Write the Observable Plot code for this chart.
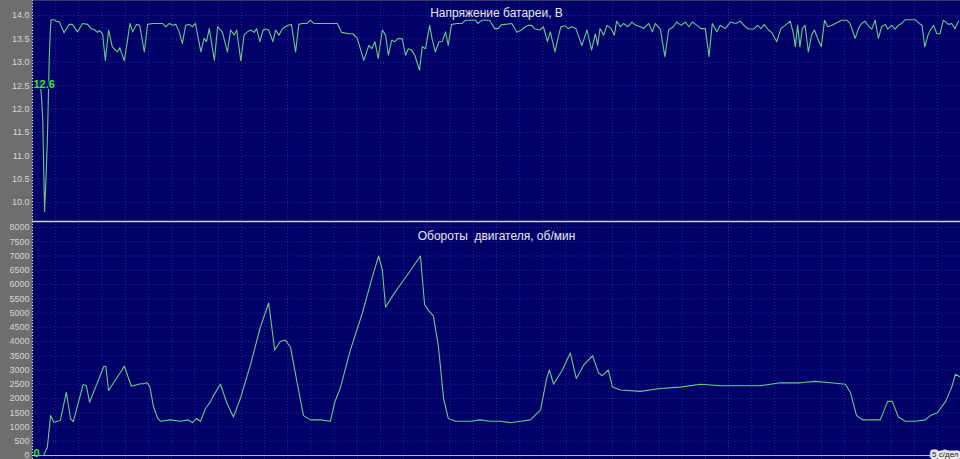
<!DOCTYPE html>
<html><head><meta charset="utf-8">
<script src="https://cdn.jsdelivr.net/npm/d3@7"></script>
<script src="https://cdn.jsdelivr.net/npm/@observablehq/plot@0.6"></script>
<style>
html,body{margin:0;padding:0;background:#6e6e6e;overflow:hidden;}
#root{width:960px;height:459px;position:relative;}
#root svg{display:block;}
</style></head>
<body><div id="root"></div>
<script>
// Titles
const titleTop = "Напряжение батареи, В";
const titleBottom = "Обороты  двигателя, об/мин";
const scaleNote = "5 с/дел";

// Battery voltage, [time s, volts]
const voltage = [
[1.6,12.6],[1.9,12.3],[2.2,11.8],[2.6,9.81],[2.9,10.5],[3.2,11.3],[3.6,13.04],[3.8,13.6],[4.0,13.91],[4.7,13.91],
[5.0,13.88],[5.8,13.86],[6.8,13.63],[7.9,13.81],[8.6,13.81],[9.7,13.65],[10.8,13.83],[11.9,13.81],[12.6,13.72],[13.3,13.70],
[14.0,13.64],[14.4,13.68],[15.1,13.61],[15.7,13.04],[16.4,13.69],[17.2,13.33],[18.3,13.22],[18.8,13.31],[19.8,13.03],[21.0,13.83],
[21.6,13.65],[22.4,13.81],[23.1,13.79],[24.1,13.22],[24.8,13.81],[25.9,13.83],[26.7,13.83],[28.0,13.83],[28.7,13.76],[29.5,13.83],
[30.2,13.79],[30.9,13.81],[31.6,13.65],[32.3,13.40],[33.0,13.79],[33.8,13.81],[34.5,13.76],[35.1,13.83],[36.3,13.22],[37.0,13.51],
[37.5,13.44],[38.1,13.72],[39.2,13.04],[39.9,13.76],[40.9,13.65],[42.0,13.22],[42.7,13.69],[43.5,13.58],[44.0,13.69],[44.9,13.03],
[45.6,13.58],[46.3,13.65],[47.0,13.69],[47.8,13.64],[48.3,13.72],[49.0,13.44],[49.7,13.69],[50.2,13.71],[50.9,13.69],[51.8,13.44],
[52.4,13.69],[53.1,13.58],[53.9,13.72],[55.1,13.79],[55.8,13.81],[56.7,13.22],[57.4,13.81],[58.1,13.83],[59.2,13.83],[59.9,13.90],
[60.6,13.83],[65.7,13.83],[66.6,13.64],[68.2,13.61],[69.0,13.61],[70.0,13.51],[71.4,13.04],[72.5,13.36],[73.1,13.29],[73.8,13.44],
[74.5,13.08],[75.4,13.69],[76.1,13.58],[76.7,13.15],[77.4,13.47],[78.1,13.44],[78.8,13.51],[79.7,13.50],[80.4,13.15],[81.0,13.29],
[81.7,13.26],[82.4,13.15],[83.4,12.83],[84.0,13.33],[84.7,13.29],[85.6,13.79],[86.1,13.51],[86.8,13.22],[87.6,13.44],[88.3,13.44],
[89.0,13.65],[89.6,13.36],[90.3,13.81],[91.5,13.83],[92.6,13.83],[93.3,13.90],[95.5,13.90],[96.0,13.83],[96.9,13.90],[98.5,13.90],
[99.6,13.72],[100.4,13.72],[101.0,13.80],[103.3,13.83],[104.4,13.64],[105.4,13.69],[106.2,13.76],[106.9,13.79],[107.6,13.79],[108.3,13.71],
[109.4,13.69],[110.1,13.76],[111.0,13.44],[111.6,13.65],[112.6,13.22],[113.4,13.58],[113.9,13.76],[114.8,13.78],[115.5,13.72],[116.2,13.76],
[117.1,13.72],[118.4,13.36],[119.5,13.69],[120.5,13.26],[121.3,13.61],[121.8,13.36],[122.3,13.72],[123.1,13.58],[123.8,13.79],[124.7,13.72],
[125.4,13.58],[125.9,13.88],[126.7,13.76],[127.4,13.83],[128.3,13.76],[129.2,13.86],[130.0,13.79],[131.0,13.76],[131.7,13.72],[132.8,13.83],
[133.6,13.65],[134.2,13.83],[135.3,13.71],[136.3,13.12],[137.1,13.69],[138.1,13.76],[138.8,13.86],[139.8,13.79],[140.7,13.86],[141.5,13.76],
[142.2,13.86],[143.2,13.79],[144.1,13.72],[145.0,13.72],[145.8,13.12],[146.5,13.83],[147.5,13.65],[148.2,13.79],[149.3,13.72],[150.4,13.86],
[151.6,13.83],[152.5,13.88],[153.6,13.76],[154.3,13.71],[155.4,13.71],[156.3,13.79],[157.0,13.72],[157.7,13.81],[158.6,13.69],[159.3,13.64],
[160.4,13.44],[161.3,13.72],[162.2,13.79],[163.3,13.88],[164.0,13.61],[164.4,13.33],[164.9,13.79],[165.4,13.33],[165.9,13.72],[166.5,13.79],
[167.2,13.22],[167.9,13.58],[168.5,13.69],[169.2,13.51],[170.0,13.33],[170.7,13.90],[171.4,13.76],[172.3,13.79],[173.0,13.83],[174.4,13.90],
[175.5,13.90],[176.2,13.83],[177.3,13.51],[178.0,13.72],[178.7,13.83],[179.4,13.88],[180.3,13.76],[180.9,13.71],[181.6,13.90],[182.3,13.51],
[183.0,13.76],[183.8,13.81],[184.3,13.71],[185.2,13.79],[185.9,13.71],[186.6,13.79],[187.3,13.83],[188.1,13.91],[190.2,13.91],[191.1,13.83],
[191.7,13.79],[192.3,13.33],[193.0,13.58],[193.5,13.69],[194.2,13.79],[194.9,13.61],[195.6,13.61],[196.3,13.90],[197.4,13.81],[198.1,13.83],
[198.8,13.72],[199.6,13.88]
].map(([t, v]) => ({t, v}));

// Engine speed, [time s, rpm]
const engineRpm = [
[1.3,0],[2.4,0],[3.2,290],[3.9,1400],[4.6,1170],[6.0,1230],[7.3,2220],[8.2,1290],[8.8,1190],[10.9,2490],
[11.6,2450],[12.3,1870],[15.4,3130],[15.8,3130],[16.4,2280],[19.8,3130],[21.3,2430],[23.3,2520],[24.0,2520],[24.7,2560],
[25.3,2400],[26.1,1700],[27.0,1300],[27.6,1200],[29.7,1250],[31.9,1200],[33.6,1250],[34.5,1150],[35.3,1300],[36.2,1200],
[37.3,1650],[38.4,1900],[39.0,2100],[40.5,2500],[42.0,1800],[43.3,1350],[44.8,2000],[47.0,3200],[49.1,4500],[50.9,5350],
[52.2,3700],[53.4,4000],[54.5,4050],[55.6,3800],[57.1,2500],[58.4,1400],[59.9,1250],[62.1,1250],[64.2,1200],[65.1,1850],
[66.4,2400],[68.5,3700],[71.1,5000],[73.3,6300],[74.6,7000],[75.4,6500],[76.1,5200],[77.6,5600],[79.3,6000],[81.5,6500],
[83.6,7000],[84.5,5300],[85.3,5100],[86.4,4900],[87.5,3800],[88.6,2000],[89.6,1300],[91.2,1200],[94.4,1200],[96.5,1250],
[98.7,1200],[100.9,1200],[103.0,1150],[105.2,1200],[107.3,1250],[109.5,1600],[110.8,2700],[111.4,3000],[112.3,2500],[114.2,3000],
[115.9,3600],[117.2,2700],[118.9,3200],[120.7,3500],[122.0,2900],[122.8,2800],[124.1,3000],[125.0,2400],[126.7,2300],[131.0,2250],
[135.3,2350],[139.6,2400],[144.0,2500],[148.3,2450],[152.6,2450],[156.9,2450],[161.2,2550],[165.5,2550],[168.7,2600],[172.0,2550],
[175.2,2500],[176.3,2200],[177.6,1400],[178.9,1250],[180.6,1250],[182.7,1250],[184.3,1900],[185.3,1900],[186.6,1350],[188.1,1200],
[190.3,1200],[192.4,1250],[193.5,1400],[195.0,1500],[196.8,1900],[198.1,2400],[198.9,2850],[200.0,2750]
].map(([t, r]) => ({t, r}));

// Axis ticks
const timeTicks = d3.range(0, 201, 5);
const voltTicks = d3.range(10, 14.01, 0.5);
const rpmTicks = d3.range(0, 8001, 500);

const navy = "#000068";
const lineColor = "#66cc88";
const gridColor = "#4a4aa0";
const font = "Liberation Sans, Arial, sans-serif";

const common = {
  width: 960,
  marginLeft: 32, marginRight: 0, marginTop: 0, marginBottom: 0,
  x: {domain: [0, 200], axis: null},
  style: {background: "#6e6e6e", fontFamily: font, overflow: "visible"}
};

const voltChart = Plot.plot({
  ...common,
  height: 221,
  y: {domain: [9.594, 14.321], axis: null},
  marks: [
    Plot.frame({fill: navy, stroke: null}),
    Plot.gridX(timeTicks, {stroke: gridColor, strokeOpacity: 0.55, strokeDasharray: "1,2"}),
    Plot.gridY(voltTicks, {stroke: gridColor, strokeOpacity: 0.55, strokeDasharray: "1,2"}),
    Plot.ruleX([0], {stroke: "#dddddd", strokeDasharray: "1,2"}),
    Plot.axisY(voltTicks, {label: null, tickSize: 0, tickPadding: 3, tickFormat: d3.format(".1f"), fill: "#d6d6d6", fontSize: 9}),
    Plot.line(voltage, {x: "t", y: "v", stroke: lineColor, strokeWidth: 1.1}),
    Plot.text([titleTop], {frameAnchor: "top", dy: 8, fill: "#e8e8e8", fontSize: 12}),
    Plot.text([voltage[0]], {x: d => 0, y: d => 12.52, text: d => d3.format(".1f")(d.v), textAnchor: "start", dx: 1, fill: "#33ee33", fontWeight: "bold", fontSize: 11, stroke: navy, strokeWidth: 2, paintOrder: "stroke"})
  ]
});

const rpmChart = Plot.plot({
  ...common,
  height: 238,
  y: {domain: [-140, 8210], axis: null},
  marks: [
    Plot.frame({fill: navy, stroke: null}),
    Plot.gridX(timeTicks, {stroke: gridColor, strokeOpacity: 0.55, strokeDasharray: "1,2"}),
    Plot.gridY(rpmTicks, {stroke: gridColor, strokeOpacity: 0.55, strokeDasharray: "1,2"}),
    Plot.ruleY([8210], {stroke: "#d0d0d8", strokeWidth: 1.5}),
    Plot.ruleY([0], {stroke: "#b8b8c8"}),
    Plot.ruleX([0], {stroke: "#dddddd", strokeDasharray: "1,2"}),
    Plot.axisY(rpmTicks, {label: null, tickSize: 0, tickPadding: 3, fill: "#d6d6d6", fontSize: 9, tickFormat: d => String(d)}),
    Plot.line(engineRpm, {x: "t", y: "r", stroke: lineColor, strokeWidth: 1.1}),
    Plot.text([titleBottom], {frameAnchor: "top", dy: 10, fill: "#e8e8e8", fontSize: 12}),
    Plot.text([engineRpm[0]], {x: 0, y: "r", text: d => String(d.r), textAnchor: "start", dx: 1, dy: -2, fill: "#33ee33", fontWeight: "bold", fontSize: 11}),
    Plot.text([scaleNote], {frameAnchor: "bottom-right", dx: -2, dy: -3, fill: "#222", fontSize: 8, stroke: "#e8e8f0", strokeWidth: 5, paintOrder: "stroke"})
  ]
});

const root = document.getElementById("root");
root.appendChild(voltChart);
root.appendChild(rpmChart);
</script>
</body></html>
